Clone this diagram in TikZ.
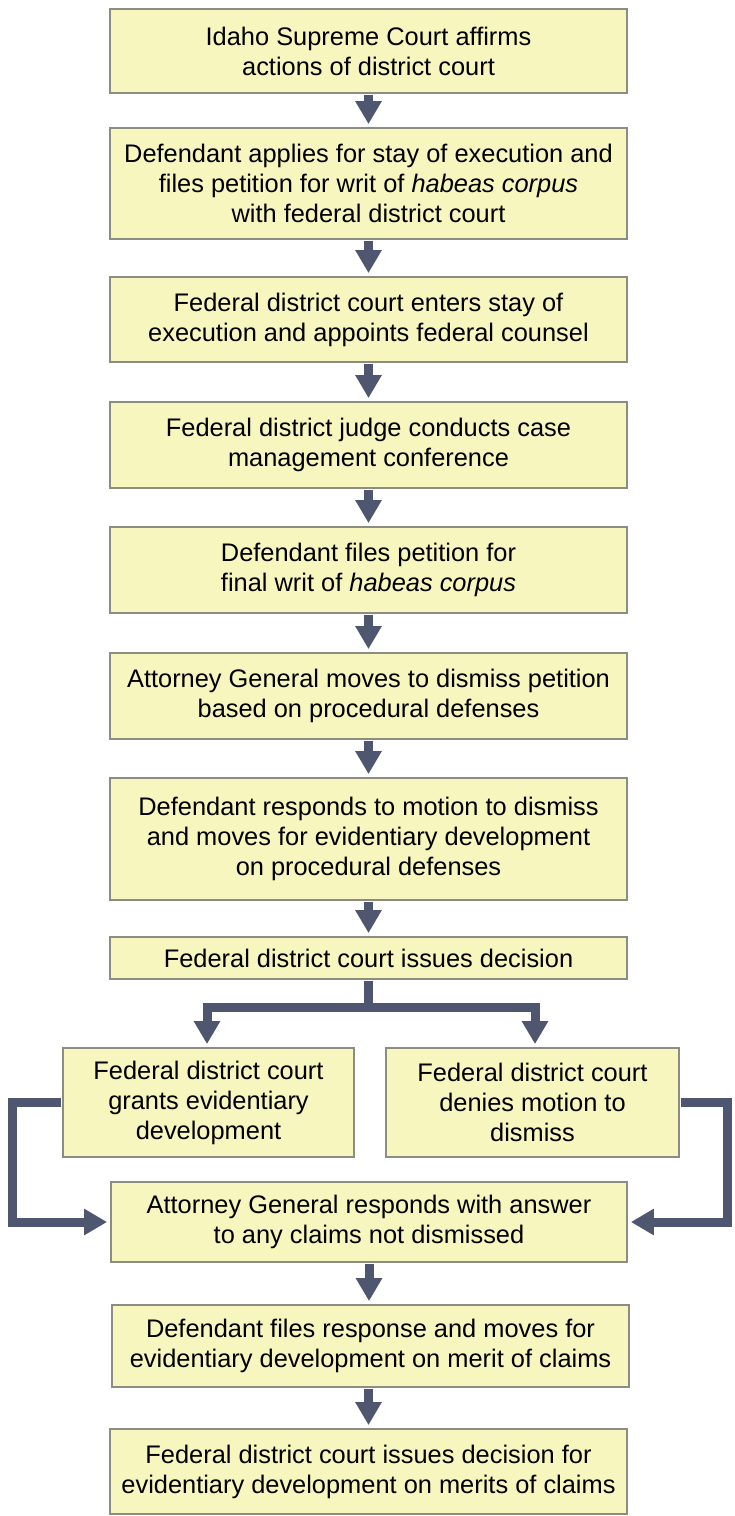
\documentclass[tikz,border=0pt]{standalone}
\usepackage{fontspec}
\setmainfont{Liberation Sans}
\usetikzlibrary{arrows.meta}
\definecolor{boxfill}{HTML}{F6F6BE}
\definecolor{boxline}{HTML}{8C8C80}
\definecolor{arrowc}{HTML}{4F5670}
\tikzset{
  stepbox/.style={draw=boxline, fill=boxfill, line width=1.8pt, align=center,
    inner sep=0pt, font=\fontsize{25.4}{30}\selectfont},
  conn/.style={draw=arrowc, line width=9pt, line join=miter,
    -{Triangle[width=25pt,length=23pt]}, shorten >=3pt, shorten <=1pt}
}
\begin{document}
\begin{tikzpicture}[x=1pt,y=-1pt]
\useasboundingbox (0,0) rectangle (735,1516);
\node[stepbox, minimum width=517pt, minimum height=84pt] (b1) at (368.5,51)
  {Idaho Supreme Court affirms\\actions of district court};
\node[stepbox, minimum width=517pt, minimum height=111pt] (b2) at (368.5,183.5)
  {Defendant applies for stay of execution and\\files petition for writ of \textit{habeas corpus}\\with federal district court};
\node[stepbox, minimum width=517pt, minimum height=85pt] (b3) at (368.5,319.5)
  {Federal district court enters stay of\\execution and appoints federal counsel};
\node[stepbox, minimum width=517pt, minimum height=86pt] (b4) at (368.5,445)
  {Federal district judge conducts case\\management conference};
\node[stepbox, minimum width=517pt, minimum height=86pt] (b5) at (368.5,570)
  {Defendant files petition for\\final writ of \textit{habeas corpus}};
\node[stepbox, minimum width=517pt, minimum height=86pt] (b6) at (368.5,696)
  {Attorney General moves to dismiss petition\\based on procedural defenses};
\node[stepbox, minimum width=517pt, minimum height=122pt] (b7) at (368.5,839)
  {Defendant responds to motion to dismiss\\and moves for evidentiary development\\on procedural defenses};
\node[stepbox, minimum width=517pt, minimum height=42pt] (b8) at (368.5,958)
  {Federal district court issues decision};
\node[stepbox, minimum width=291pt, minimum height=109pt] (b9l) at (208.5,1102.5)
  {Federal district court\\grants evidentiary\\development};
\node[stepbox, minimum width=293pt, minimum height=109pt] (b9r) at (532.5,1102.5)
  {Federal district court\\denies motion to\\dismiss};
\node[stepbox, minimum width=516pt, minimum height=80pt] (b10) at (369,1222)
  {Attorney General responds with answer\\to any claims not dismissed};
\node[stepbox, minimum width=517pt, minimum height=82pt] (b11) at (370.5,1346)
  {Defendant files response and moves for\\evidentiary development on merit of claims};
\node[stepbox, minimum width=517pt, minimum height=85pt] (b12) at (368.5,1471.5)
  {Federal district court issues decision for\\evidentiary development on merits of claims};

\draw[conn] (b1.south) -- (b2.north);
\draw[conn] (b2.south) -- (b3.north);
\draw[conn] (b3.south) -- (b4.north);
\draw[conn] (b4.south) -- (b5.north);
\draw[conn] (b5.south) -- (b6.north);
\draw[conn] (b6.south) -- (b7.north);
\draw[conn] (b7.south) -- (b8.north);
\draw[conn] (b8.south) -- ++(0,28) -| ([xshift=-1.5pt]b9l.north);
\draw[conn] (b8.south) -- ++(0,28) -| ([xshift=2.5pt]b9r.north);
\draw[conn] (b9l.west) -- ++(-50,0) |- (b10.west);
\draw[conn] (b9r.east) -- ++(48,0) |- (b10.east);
\draw[conn] (b10.south) -- (b11.north -| b10.south);
\draw[conn] (b11.south -| b12.north) -- (b12.north);
\end{tikzpicture}
\end{document}
